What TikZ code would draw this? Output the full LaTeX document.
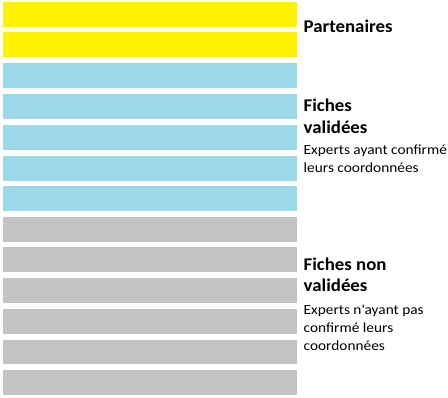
\documentclass[tikz,border=0pt]{standalone}
\usepackage{fontspec}
\setmainfont{Carlito}
\newfontfamily\headfont[FakeStretch=1.05]{Carlito}
\newfontfamily\notefont[FakeStretch=1.1]{Carlito}
\definecolor{barYellow}{HTML}{FFF200}
\definecolor{barBlue}{HTML}{9DD8E8}
\definecolor{barGray}{HTML}{C3C3C3}
\begin{document}
\begin{tikzpicture}[x=1bp,y=-1bp,
  head/.style={anchor=base west,inner sep=0pt,font=\headfont\fontsize{18}{20}\selectfont\bfseries},
  note/.style={anchor=base west,inner sep=0pt,font=\notefont\fontsize{14}{16}\selectfont}]
\useasboundingbox (0,0) rectangle (448,397);
% yellow
\fill[barYellow] (3,2) rectangle (297,27);
\fill[barYellow] (3,32) rectangle (297,57);
% blue
\fill[barBlue] (3,63) rectangle (297,88);
\fill[barBlue] (3,94) rectangle (297,119);
\fill[barBlue] (3,125) rectangle (297,149.5);
\fill[barBlue] (3,156) rectangle (297,181);
\fill[barBlue] (3,186) rectangle (297,211);
% gray
\fill[barGray] (3,217) rectangle (297,242);
\fill[barGray] (3,247) rectangle (297,272);
\fill[barGray] (3,278) rectangle (297,303);
\fill[barGray] (3,309) rectangle (297,334);
\fill[barGray] (3,339.5) rectangle (297,364);
\fill[barGray] (3,370) rectangle (297,395);
% texts
\node[head] (p) at (303.5,32.7) {Partenaires};
\node[head] (f1) at (303.5,111) {Fiches};
\node[head] (f2) at (303.5,133.7) {validées};
\node[note] (e1) at (303.5,154.3) {Experts ayant confirmé};
\node[note] (e2) at (303.5,172.7) {leurs coordonnées};
\node[head] (n1) at (303.5,270) {Fiches non};
\node[head] (n2) at (303.5,291.7) {validées};
\node[note] (m1) at (303.5,314) {Experts n\textquotesingle ayant pas};
\node[note] (m2) at (303.5,332.3) {confirmé leurs};
\node[note] (m3) at (303.5,350) {coordonnées};
\end{tikzpicture}
\end{document}
